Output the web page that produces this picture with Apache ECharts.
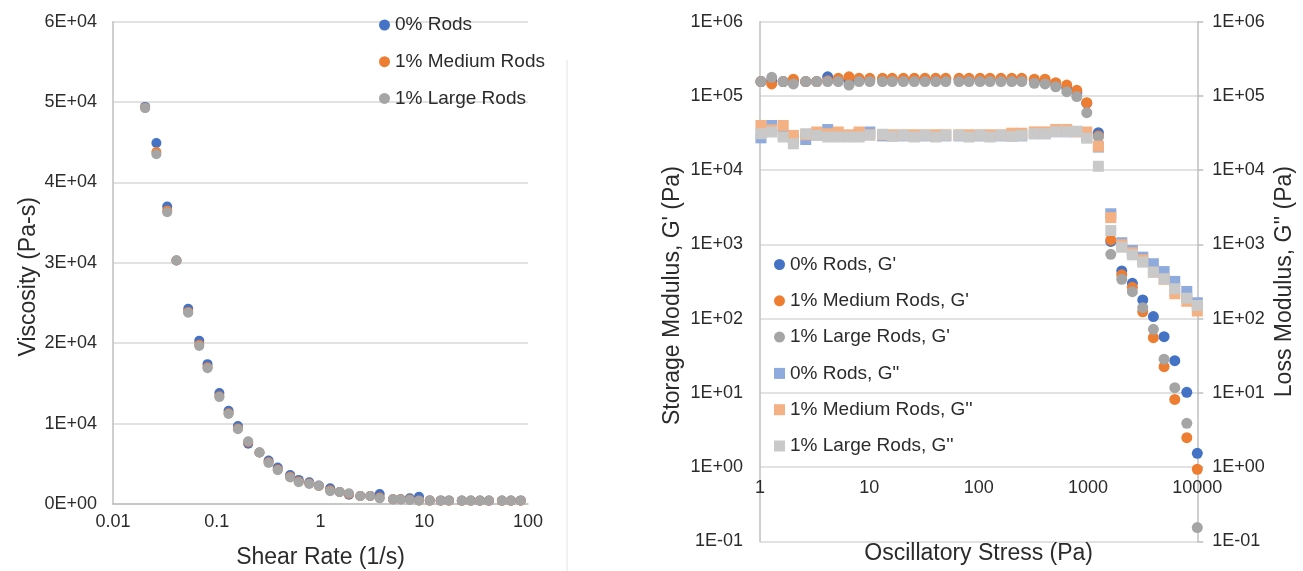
<!DOCTYPE html>
<html>
<head>
<meta charset="utf-8">
<title>Viscosity and oscillatory moduli</title>
<script src="https://cdn.jsdelivr.net/npm/echarts@6/dist/echarts.min.js"></script>
<style>
  html, body { margin: 0; padding: 0; background: #ffffff; }
  #chart { width: 1303px; height: 571px; }
</style>
</head>
<body>
<div id="chart"></div>
<script>
// ---- Steady shear: viscosity vs shear rate ----
const shearRate = [0.0204, 0.0262, 0.0333, 0.0409, 0.0531, 0.0678, 0.0815, 0.106, 0.130, 0.160,
  0.201, 0.258, 0.316, 0.387, 0.51, 0.617, 0.78, 0.964, 1.24, 1.53,
  1.88, 2.42, 3.02, 3.72, 5.0, 5.93, 7.25, 8.9, 11.3, 14.4,
  17.3, 23.0, 28.1, 34.4, 42.0, 56.1, 68.5, 85.1];
const viscRods0 = [49400, 44900, 37000, 30300, 24300, 20300, 17400, 13800, 11600, 9700,
  7500, 6400, 5400, 4550, 3600, 3000, 2700, 2300, 1950, 1500,
  1150, 1000, 1000, 1250, 600, 600, 700, 900, 450, 450,
  450, 420, 420, 420, 420, 420, 420, 450];
const viscMedium = [49300, 43800, 36500, 30300, 23900, 19800, 17000, 13400, 11300, 9400,
  7700, 6400, 5200, 4300, 3400, 2800, 2550, 2250, 1700, 1500,
  1250, 1000, 1000, 800, 600, 580, 550, 450, 420, 400,
  400, 400, 400, 400, 400, 400, 400, 400];
const viscLarge = [49250, 43500, 36300, 30300, 23800, 19650, 16900, 13300, 11200, 9300,
  7800, 6400, 5100, 4200, 3300, 2700, 2500, 2250, 1600, 1500,
  1330, 1000, 1000, 700, 580, 580, 500, 400, 400, 400,
  400, 400, 400, 400, 400, 400, 400, 400];

// ---- Oscillatory stress sweep: G' and G'' ----
const stress = [1.02, 1.28, 1.63, 2.02, 2.62, 3.30, 4.16, 5.20, 6.52, 8.05,
  10.1, 13.2, 16.2, 20.5, 25.8, 32.3, 40.5, 50.0, 66.2, 81.7,
  103, 127, 160, 201, 248, 323, 405, 507, 640, 791,
  975, 1245, 1617, 2037, 2547, 3170, 3966, 4966, 6223, 8017, 10000];
const gPrime0 = [156e3, 160e3, 156e3, 160e3, 156e3, 156e3, 181e3, 165e3, 162e3, 165e3,
  165e3, 165e3, 165e3, 165e3, 165e3, 165e3, 165e3, 165e3, 165e3, 165e3,
  165e3, 165e3, 165e3, 165e3, 165e3, 160e3, 158e3, 145e3, 130e3, 110e3,
  80e3, 32e3, 1100, 440, 300, 179, 107, 57.3, 27.2, 10.2, 1.54];
const gPrimeMedium = [156e3, 145e3, 156e3, 168e3, 156e3, 156e3, 160e3, 173e3, 181e3, 173e3,
  173e3, 173e3, 173e3, 173e3, 173e3, 173e3, 173e3, 173e3, 173e3, 173e3,
  173e3, 173e3, 173e3, 173e3, 173e3, 168e3, 168e3, 151e3, 140e3, 119e3,
  81e3, 29e3, 1150, 390, 265, 124, 55.6, 22.6, 8.2, 2.5, 0.94];
const gPrimeLarge = [156e3, 178e3, 156e3, 145e3, 156e3, 156e3, 156e3, 156e3, 140e3, 156e3,
  156e3, 156e3, 156e3, 156e3, 156e3, 156e3, 156e3, 156e3, 156e3, 156e3,
  156e3, 156e3, 156e3, 156e3, 156e3, 148e3, 145e3, 133e3, 114e3, 98e3,
  59.5e3, 28e3, 738, 340, 231, 141, 72, 28.5, 11.8, 3.9, 0.154];
const gDouble0 = [27.3e3, 40e3, 30e3, 26e3, 25.9e3, 30e3, 35.3e3, 29e3, 28.5e3, 29e3,
  32.7e3, 29e3, 29e3, 29e3, 29e3, 29e3, 29e3, 29e3, 29e3, 29e3,
  29e3, 29e3, 29e3, 29e3, 29e3, 31e3, 31e3, 33e3, 33e3, 33e3,
  28e3, 20.5e3, 2590, 1054, 830, 675, 550, 432, 318, 233, 164];
const gDoubleMedium = [40e3, 35e3, 40e3, 29.4e3, 30e3, 32.7e3, 31e3, 32.7e3, 30e3, 32.7e3,
  30e3, 30e3, 30e3, 30e3, 30e3, 30e3, 30e3, 30e3, 30e3, 30e3,
  30e3, 30e3, 30e3, 31.5e3, 31.5e3, 32.8e3, 32.8e3, 35.4e3, 35.4e3, 33e3,
  32.7e3, 21e3, 2300, 990, 773, 620, 424, 340, 217, 172, 127];
const gDoubleLarge = [31e3, 32.7e3, 28e3, 22.7e3, 31e3, 29.4e3, 28e3, 28e3, 28e3, 28e3,
  29.6e3, 30.5e3, 28.5e3, 29.5e3, 28e3, 29.5e3, 28e3, 29.5e3, 29.5e3, 28e3,
  29.5e3, 28e3, 29.5e3, 28.5e3, 29.5e3, 31e3, 31e3, 33e3, 33e3, 33.5e3,
  27e3, 11.3e3, 1540, 918, 726, 578, 424, 345, 253, 189, 151];

const legendLeft = ['0% Rods', '1% Medium Rods', '1% Large Rods'];
const legendRight = ["0% Rods, G'", "1% Medium Rods, G'", "1% Large Rods, G'",
  '0% Rods, G"', "1% Medium Rods, G''", "1% Large Rods, G''"];

const BLUE = '#4472C4', ORANGE = '#ED7D31', GRAY = '#A5A5A5';
const BLUE_L = '#8FAADC', ORANGE_L = '#F4B183', GRAY_L = '#C9C9C9';
const FONT = "'Liberation Sans', Arial, sans-serif";
const TXT = '#2B2B2B';

function pairs(xs, ys) { return xs.map((x, i) => [x, ys[i]]); }

function sci(v) {
  if (v === 0) return '0E+00';
  let e = Math.floor(Math.log10(v) + 1e-9);
  let m = Math.round(v / Math.pow(10, e));
  if (m === 10) { m = 1; e += 1; }
  return m + 'E' + (e < 0 ? '-' : '+') + String(Math.abs(e)).padStart(2, '0');
}
function plain(v) { return String(parseFloat(Number(v).toPrecision(6))); }

const axisLineStyle = { color: '#BFBFBF', width: 1.5 };
const gridLineStyle = { color: '#D9D9D9', width: 1.5 };
const labelStyle = { color: TXT, fontSize: 18, fontFamily: FONT };
// rotated axis titles: right padding shifts the rotated text downward
function nameStyle(shiftDown) {
  return { color: TXT, fontSize: 23, fontFamily: FONT, padding: [0, 2 * shiftDown, 0, 0] };
}

function scatter(name, xi, yi, data, color, symbol, size) {
  return {
    name, type: 'scatter', xAxisIndex: xi, yAxisIndex: yi,
    data, symbol, symbolSize: size,
    itemStyle: { color, opacity: 1 },
    emphasis: { disabled: true }
  };
}

const chart = echarts.init(document.getElementById('chart'), null, { renderer: 'canvas' });
chart.setOption({
  animation: false,
  backgroundColor: '#ffffff',
  textStyle: { fontFamily: FONT },
  grid: [
    { left: 113, top: 21.7, width: 415, height: 482.3, containLabel: false, outerBoundsMode: 'none' },
    { left: 760, top: 21.7, width: 437.3, height: 519.8, containLabel: false, outerBoundsMode: 'none' }
  ],
  legend: [
    {
      data: legendLeft, orient: 'vertical', left: 374, top: 9, padding: 5,
      itemWidth: 11, itemHeight: 11, itemGap: 14.7, icon: 'circle',
      textStyle: { color: TXT, fontSize: 19, lineHeight: 22, fontFamily: FONT },
      selectedMode: false
    },
    {
      data: legendRight.map((n, i) => ({ name: n, icon: i < 3 ? 'circle' : 'rect' })),
      orient: 'vertical', left: 769, top: 248.5, padding: 5,
      itemWidth: 11, itemHeight: 11, itemGap: 14.3,
      textStyle: { color: TXT, fontSize: 19, lineHeight: 22, fontFamily: FONT },
      selectedMode: false
    }
  ],
  xAxis: [
    {
      gridIndex: 0, type: 'log', logBase: 10, min: 0.01, max: 100,
      name: 'Shear Rate (1/s)', nameLocation: 'middle', nameGap: 42,
      nameTextStyle: { color: TXT, fontSize: 23, fontFamily: FONT },
      axisLine: { show: true, lineStyle: axisLineStyle },
      axisTick: { show: false },
      splitLine: { show: false },
      minorTick: { show: false },
      axisLabel: { ...labelStyle, margin: 9, formatter: plain }
    },
    {
      gridIndex: 1, type: 'log', logBase: 10, min: 1, max: 10000,
      offset: -74.2,
      name: 'Oscillatory Stress (Pa)', nameLocation: 'middle', nameGap: 75,
      nameTextStyle: { color: TXT, fontSize: 23, fontFamily: FONT },
      axisLine: { show: false },
      axisTick: { show: false },
      splitLine: { show: false },
      axisLabel: { ...labelStyle, margin: 12, formatter: plain }
    }
  ],
  yAxis: [
    {
      gridIndex: 0, type: 'value', min: 0, max: 60000, interval: 10000,
      name: 'Viscosity (Pa-s)', nameLocation: 'middle', nameGap: 73, nameRotate: 90,
      nameTextStyle: nameStyle(14),
      axisLine: { show: true, lineStyle: axisLineStyle },
      axisTick: { show: false },
      splitLine: { show: true, lineStyle: gridLineStyle },
      axisLabel: { ...labelStyle, margin: 16, formatter: sci }
    },
    {
      gridIndex: 1, type: 'log', logBase: 10, min: 0.1, max: 1e6, position: 'left',
      name: "Storage Modulus, G' (Pa)", nameLocation: 'middle', nameGap: 76, nameRotate: 90,
      nameTextStyle: nameStyle(14),
      axisLine: { show: true, lineStyle: axisLineStyle },
      axisTick: { show: false },
      splitLine: { show: true, lineStyle: gridLineStyle },
      axisLabel: { ...labelStyle, margin: 17, formatter: sci }
    },
    {
      gridIndex: 1, type: 'log', logBase: 10, min: 0.1, max: 1e6, position: 'right',
      name: "Loss Modulus, G'' (Pa)", nameLocation: 'middle', nameGap: 76, nameRotate: 90,
      nameTextStyle: nameStyle(0),
      axisLine: { show: true, lineStyle: axisLineStyle },
      axisTick: { show: true, inside: false, length: 6, lineStyle: axisLineStyle },
      splitLine: { show: false },
      axisLabel: { ...labelStyle, margin: 15, formatter: sci }
    }
  ],
  graphic: [
    {
      type: 'line', shape: { x1: 567, y1: 60, x2: 567, y2: 571 },
      style: { stroke: '#E3E3E3', lineWidth: 1 }, silent: true
    }
  ],
  series: [
    scatter(legendLeft[0], 0, 0, pairs(shearRate, viscRods0), BLUE, 'circle', 10),
    scatter(legendLeft[1], 0, 0, pairs(shearRate, viscMedium), ORANGE, 'circle', 10),
    scatter(legendLeft[2], 0, 0, pairs(shearRate, viscLarge), GRAY, 'circle', 10),
    scatter(legendRight[0], 1, 1, pairs(stress, gPrime0), BLUE, 'circle', 11),
    scatter(legendRight[1], 1, 1, pairs(stress, gPrimeMedium), ORANGE, 'circle', 11),
    scatter(legendRight[2], 1, 1, pairs(stress, gPrimeLarge), GRAY, 'circle', 11),
    scatter(legendRight[3], 1, 2, pairs(stress, gDouble0), BLUE_L, 'rect', [11, 11]),
    scatter(legendRight[4], 1, 2, pairs(stress, gDoubleMedium), ORANGE_L, 'rect', [11, 11]),
    scatter(legendRight[5], 1, 2, pairs(stress, gDoubleLarge), GRAY_L, 'rect', [11, 11])
  ]
});
</script>
</body>
</html>
